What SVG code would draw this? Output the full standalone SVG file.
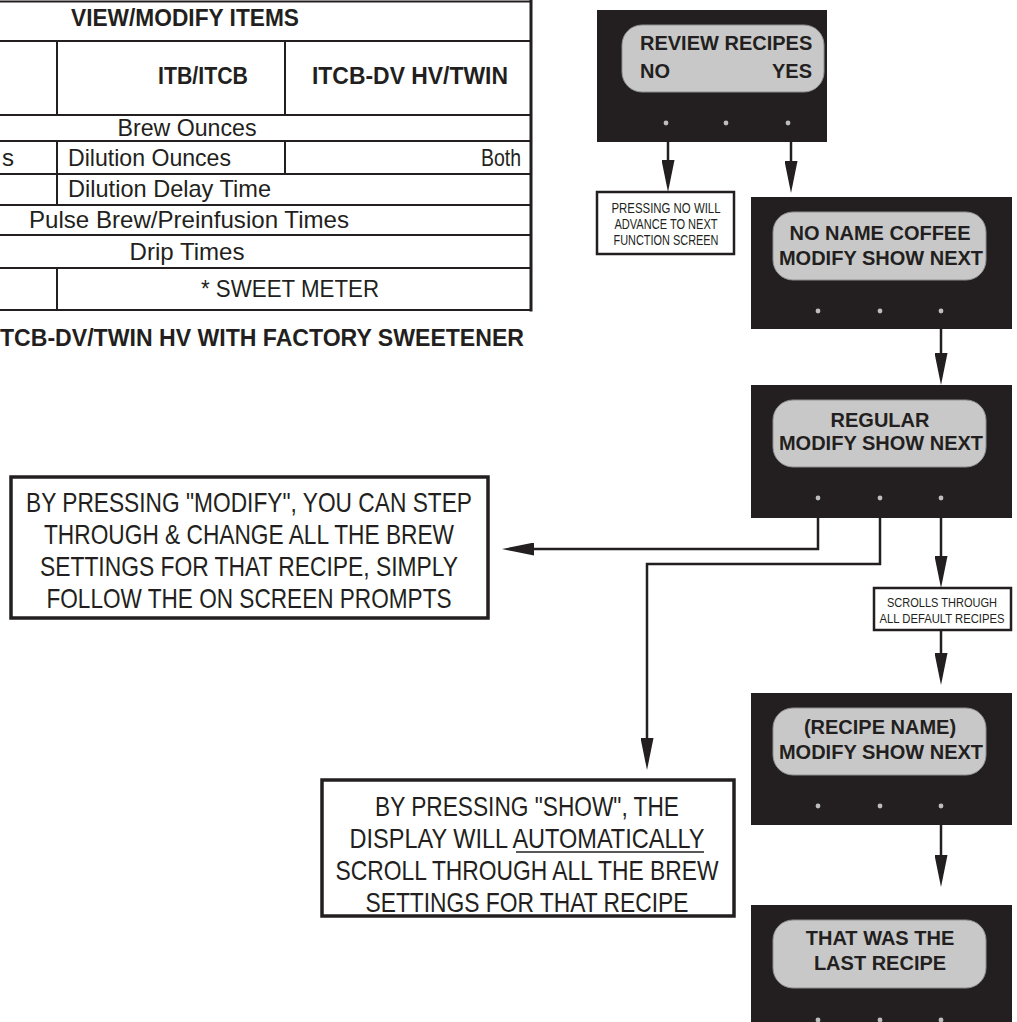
<svg xmlns="http://www.w3.org/2000/svg" width="1017" height="1022" viewBox="0 0 1017 1022">
  <style>
    .bg { fill: #ffffff; }
    .rule { stroke: #231f20; stroke-width: 2; fill: none; }
    .frame { stroke: #231f20; stroke-width: 3; fill: none; }
    .cond { font-family: "Liberation Sans Narrow", "Liberation Sans", Arial, sans-serif; fill: #231f20; }
    .tbl { font-size: 24px; }
    .tblb { font-size: 23px; font-weight: bold; }
    .big { font-size: 28px; text-anchor: middle; }
    .small { font-size: 14px; text-anchor: middle; }
    .tiny { font-size: 12px; text-anchor: middle; }
    .screen { fill: #231f20; }
    .pill { fill: #c8c8c8; stroke: #8f8f8f; stroke-width: 1; }
    .dot { fill: #bdbdbd; }
    .scr { font-family: "Liberation Sans", Arial, sans-serif; font-weight: bold; font-size: 20px; fill: #231f20; }
    .mid { text-anchor: middle; }
    .note { fill: #ffffff; stroke: #231f20; stroke-width: 2.5; }
    .callout { fill: #ffffff; stroke: #231f20; stroke-width: 3.5; }
    .wire { stroke: #231f20; stroke-width: 2.5; fill: none; marker-end: url(#head); }
  </style>
  <defs>
    <marker id="head" markerUnits="userSpaceOnUse" markerWidth="32" markerHeight="13" refX="24" refY="6.5" orient="auto">
      <path d="M0,0 L32,6.5 L0,13 Z" fill="#231f20"/>
    </marker>
  </defs>

  <rect class="bg" x="0" y="0" width="1017" height="1022"/>

  <!-- view/modify items table (left part cut off) -->
  <g id="items-table">
    <path class="rule" d="M0,1.5 H531 M0,41 H531 M0,115 H531 M0,141 H531 M0,174 H531 M0,205 H531 M0,235 H531 M0,268 H531 M0,310 H531"/>
    <path class="frame" d="M531,0 V311.5"/>
    <path class="rule" d="M57,41 V115 M285,41 V115 M57,141 V205 M285,141 V174 M57,268 V310"/>
    <text class="cond tblb" x="185" y="26" text-anchor="middle" textLength="228" lengthAdjust="spacingAndGlyphs">VIEW/MODIFY ITEMS</text>
    <text class="cond tblb" x="203" y="84" text-anchor="middle" textLength="90" lengthAdjust="spacingAndGlyphs">ITB/ITCB</text>
    <text class="cond tblb" x="410" y="84" text-anchor="middle" textLength="196" lengthAdjust="spacingAndGlyphs">ITCB-DV HV/TWIN</text>
    <text class="cond tbl" x="187" y="135.5" text-anchor="middle" textLength="139" lengthAdjust="spacingAndGlyphs">Brew Ounces</text>
    <text class="cond tbl" x="2" y="165.5">s</text>
    <text class="cond tbl" x="68" y="165.5" textLength="163" lengthAdjust="spacingAndGlyphs">Dilution Ounces</text>
    <text class="cond tbl" x="521" y="165.5" text-anchor="end" textLength="40" lengthAdjust="spacingAndGlyphs">Both</text>
    <text class="cond tbl" x="68" y="196.5" textLength="203" lengthAdjust="spacingAndGlyphs">Dilution Delay Time</text>
    <text class="cond tbl" x="189" y="227.5" text-anchor="middle" textLength="320" lengthAdjust="spacingAndGlyphs">Pulse Brew/Preinfusion Times</text>
    <text class="cond tbl" x="187" y="259.5" text-anchor="middle" textLength="115" lengthAdjust="spacingAndGlyphs">Drip Times</text>
    <text class="cond tbl" x="290" y="296.5" text-anchor="middle" textLength="178" lengthAdjust="spacingAndGlyphs">*  SWEET METER</text>
    <text class="cond tblb" x="0" y="346" textLength="524" lengthAdjust="spacingAndGlyphs">TCB-DV/TWIN HV WITH FACTORY SWEETENER</text>
  </g>

  <!-- display screens -->
  <g id="screen-review">
    <rect class="screen" x="597" y="10" width="230" height="132"/>
    <rect class="pill" x="622" y="25" width="202" height="67" rx="20"/>
    <text class="scr" x="640" y="50">REVIEW RECIPES</text>
    <text class="scr" x="640" y="78">NO</text>
    <text class="scr" x="812" y="78" text-anchor="end">YES</text>
    <circle class="dot" cx="666" cy="123" r="2.4"/>
    <circle class="dot" cx="726" cy="123" r="2.4"/>
    <circle class="dot" cx="788" cy="123" r="2.4"/>
  </g>

  <g id="screen-no-name">
    <rect class="screen" x="751" y="197" width="261" height="132"/>
    <rect class="pill" x="773" y="212" width="213" height="68" rx="20"/>
    <text class="scr mid" x="880" y="240">NO NAME COFFEE</text>
    <text class="scr mid" x="881" y="265">MODIFY SHOW NEXT</text>
    <circle class="dot" cx="818" cy="311" r="2.4"/>
    <circle class="dot" cx="880" cy="311" r="2.4"/>
    <circle class="dot" cx="941" cy="311" r="2.4"/>
  </g>

  <g id="screen-regular">
    <rect class="screen" x="751" y="385" width="261" height="133"/>
    <rect class="pill" x="773" y="400" width="213" height="67" rx="20"/>
    <text class="scr mid" x="880" y="427">REGULAR</text>
    <text class="scr mid" x="881" y="450">MODIFY SHOW NEXT</text>
    <circle class="dot" cx="818" cy="498" r="2.4"/>
    <circle class="dot" cx="880" cy="498" r="2.4"/>
    <circle class="dot" cx="941" cy="498" r="2.4"/>
  </g>

  <g id="screen-recipe-name">
    <rect class="screen" x="751" y="693" width="261" height="132"/>
    <rect class="pill" x="773" y="708" width="213" height="67" rx="20"/>
    <text class="scr mid" x="880" y="734">(RECIPE NAME)</text>
    <text class="scr mid" x="881" y="759">MODIFY SHOW NEXT</text>
    <circle class="dot" cx="818" cy="806" r="2.4"/>
    <circle class="dot" cx="880" cy="806" r="2.4"/>
    <circle class="dot" cx="941" cy="806" r="2.4"/>
  </g>

  <g id="screen-last">
    <rect class="screen" x="751" y="905" width="261" height="130"/>
    <rect class="pill" x="773" y="920" width="213" height="68" rx="20"/>
    <text class="scr mid" x="880" y="945">THAT WAS THE</text>
    <text class="scr mid" x="880" y="970">LAST RECIPE</text>
    <circle class="dot" cx="818" cy="1020" r="2.4"/>
    <circle class="dot" cx="880" cy="1020" r="2.4"/>
    <circle class="dot" cx="941" cy="1020" r="2.4"/>
  </g>

  <!-- notes -->
  <g id="note-no">
    <rect class="note" x="597" y="192" width="137" height="62"/>
    <text class="cond small" x="666" y="212.5" textLength="109" lengthAdjust="spacingAndGlyphs">PRESSING NO WILL</text>
    <text class="cond small" x="666" y="228.5" textLength="103" lengthAdjust="spacingAndGlyphs">ADVANCE TO NEXT</text>
    <text class="cond small" x="666" y="244.5" textLength="105" lengthAdjust="spacingAndGlyphs">FUNCTION SCREEN</text>
  </g>

  <g id="note-scroll">
    <rect class="note" x="874" y="588" width="137" height="42"/>
    <text class="cond tiny" x="942" y="606.5" textLength="110" lengthAdjust="spacingAndGlyphs">SCROLLS THROUGH</text>
    <text class="cond tiny" x="942" y="622.5" textLength="125" lengthAdjust="spacingAndGlyphs">ALL DEFAULT RECIPES</text>
  </g>

  <g id="note-modify">
    <rect class="callout" x="11" y="477" width="477" height="141"/>
    <text class="cond big" x="249" y="512" textLength="446" lengthAdjust="spacingAndGlyphs">BY PRESSING "MODIFY", YOU CAN STEP</text>
    <text class="cond big" x="249" y="544" textLength="410" lengthAdjust="spacingAndGlyphs">THROUGH &amp; CHANGE ALL THE BREW</text>
    <text class="cond big" x="249" y="576" textLength="418" lengthAdjust="spacingAndGlyphs">SETTINGS FOR THAT RECIPE, SIMPLY</text>
    <text class="cond big" x="249" y="608" textLength="405" lengthAdjust="spacingAndGlyphs">FOLLOW THE ON SCREEN PROMPTS</text>
  </g>

  <g id="note-show">
    <rect class="callout" x="322" y="780" width="412" height="136"/>
    <text class="cond big" x="527" y="816" textLength="304" lengthAdjust="spacingAndGlyphs">BY PRESSING "SHOW", THE</text>
    <text class="cond big" x="527" y="848" textLength="355" lengthAdjust="spacingAndGlyphs">DISPLAY WILL AUTOMATICALLY</text>
    <line x1="516" y1="852" x2="704" y2="852" stroke="#231f20" stroke-width="1.6"/>
    <text class="cond big" x="527" y="880" textLength="383" lengthAdjust="spacingAndGlyphs">SCROLL THROUGH ALL THE BREW</text>
    <text class="cond big" x="527" y="912" textLength="323" lengthAdjust="spacingAndGlyphs">SETTINGS FOR THAT RECIPE</text>
  </g>

  <!-- connectors -->
  <g id="connectors">
    <path class="wire" d="M668,142 V184"/>
    <path class="wire" d="M791,142 V185"/>
    <path class="wire" d="M941,329 V377"/>
    <path class="wire" d="M941,518 V580"/>
    <path class="wire" d="M941,630 V677"/>
    <path class="wire" d="M941,825 V879"/>
    <path class="wire" d="M818,518 V549 H510"/>
    <path class="wire" d="M880,518 V564 H647 V762"/>
  </g>
</svg>
